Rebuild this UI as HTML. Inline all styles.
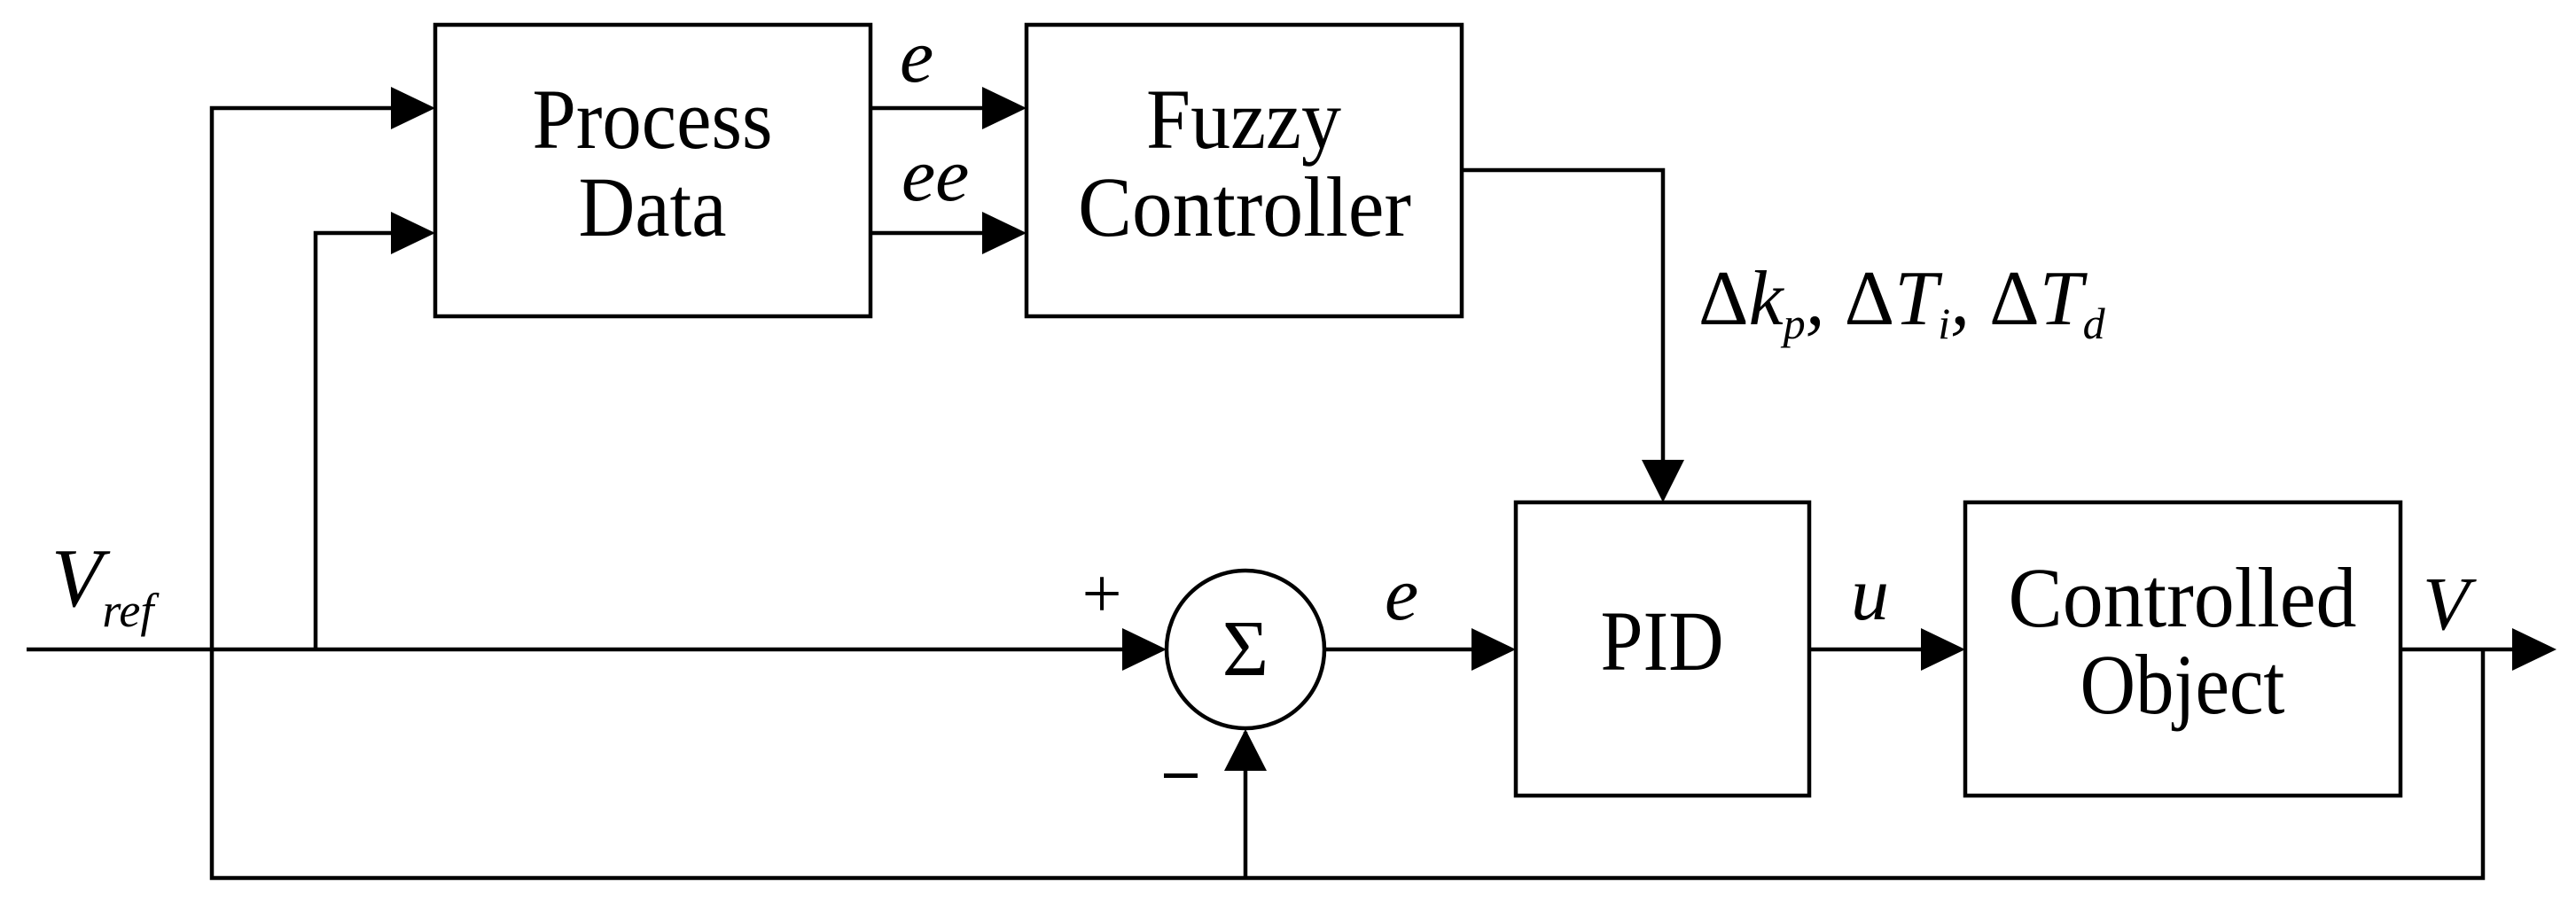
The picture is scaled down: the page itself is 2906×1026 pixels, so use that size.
<!DOCTYPE html>
<html><head><style>html,body{margin:0;padding:0;background:#fff}svg{display:block}</style></head>
<body>
<svg width="2906" height="1026" viewBox="0 0 2906 1026" xmlns="http://www.w3.org/2000/svg" font-family="'Liberation Serif', serif" fill="#000">
<g stroke="#000" stroke-width="4.5" fill="none">
<rect x="491" y="28" width="491" height="329"/>
<rect x="1158" y="28" width="491" height="329"/>
<rect x="1710" y="567" width="331" height="331"/>
<rect x="2217" y="567" width="491" height="331"/>
<circle cx="1405" cy="733" r="89"/>
<polyline points="30,733 1270,733"/>
<polyline points="239,733 239,122 445,122"/>
<polyline points="356,733 356,263 445,263"/>
<polyline points="982,122 1112,122"/>
<polyline points="982,263 1112,263"/>
<polyline points="1649,192 1876,192 1876,522"/>
<polyline points="1494,733 1663,733"/>
<polyline points="2041,733 2170,733"/>
<polyline points="2708,733 2838,733"/>
<polyline points="2801,733 2801,991 239,991 239,733"/>
<polyline points="1405,991 1405,826"/>
</g>
<g stroke="none">
<polygon points="491,122 441,98 441,146"/>
<polygon points="491,263 441,239 441,287"/>
<polygon points="1158,122 1108,98 1108,146"/>
<polygon points="1158,263 1108,239 1108,287"/>
<polygon points="1316,733 1266,709 1266,757"/>
<polygon points="1405,823 1381,870 1429,870"/>
<polygon points="1876,567 1852,519 1900,519"/>
<polygon points="1710,733 1660,709 1660,757"/>
<polygon points="2217,733 2167,709 2167,757"/>
<polygon points="2884,733 2834,709 2834,757"/>
</g>
<g font-size="96" text-anchor="middle" lengthAdjust="spacingAndGlyphs">
<text x="736" y="167" textLength="271" lengthAdjust="spacingAndGlyphs">Process</text>
<text x="736" y="266" textLength="167" lengthAdjust="spacingAndGlyphs">Data</text>
<text x="1403" y="167" textLength="220" lengthAdjust="spacingAndGlyphs">Fuzzy</text>
<text x="1404" y="266" textLength="376" lengthAdjust="spacingAndGlyphs">Controller</text>
<text x="1875" y="756" textLength="139" lengthAdjust="spacingAndGlyphs">PID</text>
<text x="2462" y="707" textLength="393" lengthAdjust="spacingAndGlyphs">Controlled</text>
<text x="2462" y="805" textLength="231" lengthAdjust="spacingAndGlyphs">Object</text>
<text x="1405" y="762" font-size="90">Σ</text>
</g>
<g font-style="italic" font-size="86">
<text x="1015" y="92">e</text>
<text x="1017" y="226">ee</text>
<text x="1562" y="699">e</text>
<text x="2088" y="699">u</text>
<text x="2733" y="710">V</text>
<text x="58" y="684" font-size="94">V<tspan font-size="54" dy="23">ref</tspan></text>
<text x="1916" y="366" font-size="88"><tspan font-style="normal">Δ</tspan>k<tspan font-size="50" dy="16">p</tspan><tspan dy="-16">, </tspan><tspan font-style="normal">Δ</tspan>T<tspan font-size="50" dy="16">i</tspan><tspan dy="-16">, </tspan><tspan font-style="normal">Δ</tspan>T<tspan font-size="50" dy="16">d</tspan></text>
</g>
<text x="1243" y="697" font-size="80" text-anchor="middle">+</text>
<rect x="1313" y="873" width="38" height="5"/>
</svg>
</body></html>
